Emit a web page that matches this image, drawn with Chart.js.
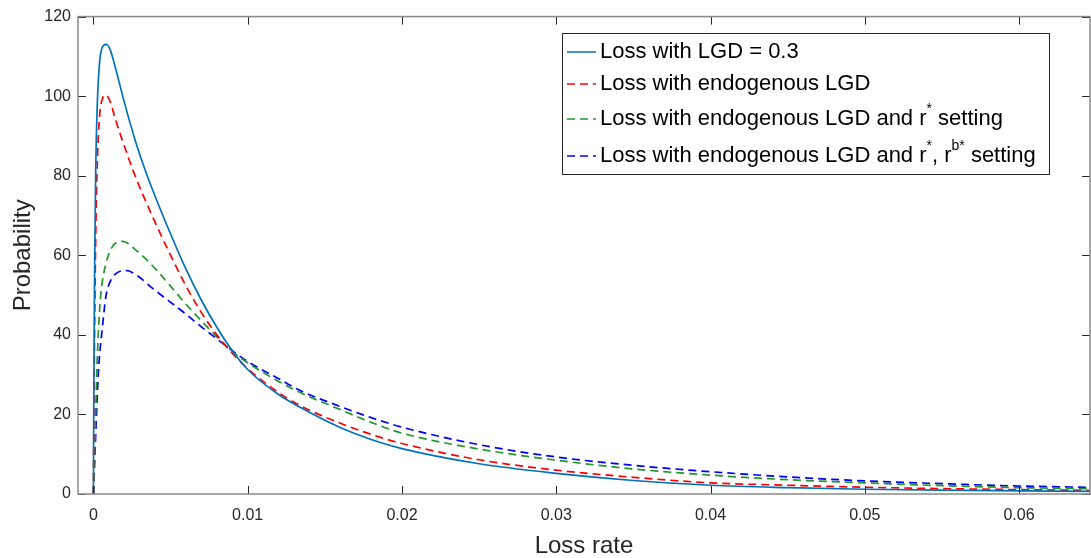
<!DOCTYPE html>
<html lang="en">
<head>
    <meta charset="UTF-8">
    <title>Loss rate distribution</title>
    <script src="https://cdn.jsdelivr.net/npm/chart.js"></script>
    <style>
        body { margin: 0; background: #fff; }
        #wrap { width: 1091px; height: 558px; }
    </style>
</head>
<body>
    <div id="wrap"><canvas id="lossChart" width="1091" height="558"></canvas></div>

    <script>
        // Loss with LGD = 0.3
        const xSolid = [0, 0.00003, 0.00008, 0.00015, 0.00025, 0.0004, 0.0006, 0.00085, 0.0011, 0.0014, 0.002, 0.0027, 0.0033, 0.0038, 0.0049, 0.006, 0.007, 0.008, 0.009, 0.010, 0.012, 0.0134, 0.016, 0.018, 0.020, 0.025, 0.030, 0.035, 0.040, 0.045, 0.050, 0.055, 0.060, 0.065];
        const ySolid = [0, 30, 58, 82, 98, 108.5, 112.5, 113, 111.5, 107.5, 98.5, 89, 82, 76.8, 66.3, 56.5, 48.7, 41.9, 36.0, 31.3, 25, 21.8, 16.7, 13.7, 11.4, 7.6, 5.2, 3.4, 2.2, 1.6, 1.2, 0.95, 0.8, 0.65];

        // Loss with endogenous LGD
        const xEndo = [0, 0.00003, 0.00008, 0.00015, 0.00025, 0.0004, 0.0006, 0.0008, 0.0011, 0.0014, 0.002, 0.0027, 0.0038, 0.0049, 0.006, 0.007, 0.008, 0.009, 0.010, 0.012, 0.0134, 0.016, 0.018, 0.020, 0.025, 0.030, 0.035, 0.040, 0.045, 0.050, 0.055, 0.060, 0.065];
        const yEndo = [0, 20, 42, 65, 83, 95, 99.5, 100.3, 98.5, 94.5, 87.5, 80, 70, 60.8, 52.3, 45.6, 40, 35.4, 31.5, 25.5, 22.2, 17.8, 15, 12.7, 8.6, 6.0, 4.2, 2.8, 2.2, 1.7, 1.35, 1.1, 0.9];

        // Loss with endogenous LGD and r* setting
        const xStar = [0, 0.00005, 0.0001, 0.00017, 0.00024, 0.00035, 0.0005, 0.0008, 0.0012, 0.0019, 0.0027, 0.0038, 0.0049, 0.006, 0.007, 0.008, 0.009, 0.010, 0.012, 0.0134, 0.016, 0.018, 0.020, 0.025, 0.030, 0.035, 0.040, 0.045, 0.050, 0.055, 0.060, 0.065];
        const yStar = [0, 6, 14, 24, 33, 43, 51, 57.7, 62, 63.5, 61.5, 57.5, 52.7, 47.7, 43.5, 39.5, 35.8, 33, 28.3, 25.5, 21.2, 18, 15.3, 11.3, 8.5, 6.3, 4.75, 3.6, 2.8, 2.1, 1.6, 1.3];

        // Loss with endogenous LGD and r*, rb* setting
        const xStarB = [0, 0.0001, 0.0002, 0.0003, 0.0004, 0.00056, 0.0008, 0.0011, 0.0015, 0.0021, 0.0028, 0.0038, 0.0049, 0.006, 0.007, 0.008, 0.009, 0.010, 0.012, 0.0134, 0.016, 0.018, 0.020, 0.025, 0.030, 0.035, 0.040, 0.045, 0.050, 0.055, 0.060, 0.065];
        const yStarB = [0, 10, 20, 29, 35, 41, 49.5, 53.5, 55.5, 56.2, 55, 51.8, 48.5, 45.2, 42, 39, 36, 33.3, 29, 26, 22, 19.2, 16.8, 12.4, 9.3, 7.2, 5.6, 4.3, 3.3, 2.6, 2.0, 1.65];

        const seriesNames = [
            'Loss with LGD = 0.3',
            'Loss with endogenous LGD',
            'Loss with endogenous LGD and r* setting',
            'Loss with endogenous LGD and r*, rb* setting'
        ];
        // legend text pieces, sup = superscript
        const legendParts = [
            [{ t: 'Loss with LGD = 0.3' }],
            [{ t: 'Loss with endogenous LGD' }],
            [{ t: 'Loss with endogenous LGD and r' }, { t: '*', sup: true }, { t: ' setting' }],
            [{ t: 'Loss with endogenous LGD and r' }, { t: '*', sup: true }, { t: ', r' }, { t: 'b*', sup: true }, { t: ' setting' }]
        ];
        const seriesColors = ['#0072BD', '#FF0000', '#22962a', '#0000FF'];

        const xTicks = [0, 0.01, 0.02, 0.03, 0.04, 0.05, 0.06];
        const xTickLabels = ['0', '0.01', '0.02', '0.03', '0.04', '0.05', '0.06'];
        const yTicks = [0, 20, 40, 60, 80, 100, 120];

        const FONT = "'Liberation Sans', Arial, Helvetica, sans-serif";

        function pairs(xs, ys) {
            return xs.map((x, i) => ({ x: x, y: ys[i] }));
        }

        const lineData = [pairs(xSolid, ySolid), pairs(xEndo, yEndo), pairs(xStar, yStar), pairs(xStarB, yStarB)];

        // box, inward ticks and the legend, MATLAB style
        const framePlugin = {
            id: 'frame',
            afterDatasetsDraw(chart) {
                const ctx = chart.ctx;
                const a = chart.chartArea;
                const x = chart.scales.x, y = chart.scales.y;
                ctx.save();

                ctx.strokeStyle = '#262626';
                ctx.lineWidth = 1;
                ctx.beginPath();
                xTicks.forEach(v => {
                    const px = Math.round(x.getPixelForValue(v)) + 0.5;
                    ctx.moveTo(px, a.bottom); ctx.lineTo(px, a.bottom - 8);
                    ctx.moveTo(px, a.top); ctx.lineTo(px, a.top + 8);
                });
                yTicks.forEach(v => {
                    const py = Math.round(y.getPixelForValue(v)) + 0.5;
                    ctx.moveTo(a.left, py); ctx.lineTo(a.left + 8, py);
                    ctx.moveTo(a.right, py); ctx.lineTo(a.right - 8, py);
                });
                ctx.stroke();

                ctx.strokeStyle = '#8a8a8a';
                ctx.lineWidth = 1.5;
                ctx.strokeRect(a.left, a.top, a.right - a.left, a.bottom - a.top);

                // legend
                const bx = 562, by = 33, bw = 487, bh = 141;
                ctx.fillStyle = '#fff';
                ctx.fillRect(bx, by, bw, bh);
                ctx.strokeStyle = '#262626';
                ctx.lineWidth = 1;
                ctx.strokeRect(bx + 0.5, by + 0.5, bw, bh);

                const rowY = [52, 84, 119, 156];
                ctx.textBaseline = 'middle';
                legendParts.forEach((parts, i) => {
                    const ds = chart.data.datasets[i];
                    ctx.strokeStyle = ds.borderColor;
                    ctx.lineWidth = 1.5;
                    ctx.setLineDash(ds.borderDash || []);
                    ctx.beginPath();
                    ctx.moveTo(567, rowY[i]); ctx.lineTo(596, rowY[i]);
                    ctx.stroke();
                    ctx.setLineDash([]);

                    let tx = 600;
                    ctx.fillStyle = '#000';
                    parts.forEach(p => {
                        if (p.sup) {
                            ctx.font = '14px ' + FONT;
                            ctx.fillText(p.t, tx, rowY[i] - 10);
                        } else {
                            ctx.font = '22px ' + FONT;
                            ctx.fillText(p.t, tx, rowY[i]);
                        }
                        tx += ctx.measureText(p.t).width;
                    });
                });
                ctx.restore();
            }
        };

        new Chart(document.getElementById('lossChart'), {
            type: 'line',
            data: {
                datasets: lineData.map((d, i) => ({
                    label: seriesNames[i],
                    data: d,
                    borderColor: seriesColors[i],
                    borderWidth: 1.7,
                    borderDash: i === 0 ? [] : [8, 5],
                    pointRadius: 0,
                    cubicInterpolationMode: 'monotone',
                    fill: false
                }))
            },
            options: {
                responsive: false,
                animation: false,
                layout: { padding: { top: 14, right: 1, left: 0, bottom: 0 } },
                plugins: {
                    legend: { display: false },
                    tooltip: { enabled: false }
                },
                scales: {
                    x: {
                        type: 'linear',
                        min: -0.001,
                        max: 0.0646,
                        afterBuildTicks: s => { s.ticks = xTicks.map(v => ({ value: v })); },
                        afterFit: s => { s.height = 64; },
                        grid: { display: false, drawTicks: false, tickLength: 0 },
                        border: { display: false },
                        ticks: {
                            autoSkip: false,
                            maxRotation: 0,
                            padding: 12,
                            color: '#262626',
                            font: { family: FONT, size: 16 },
                            callback: (v, i) => xTickLabels[i]
                        },
                        title: {
                            display: true,
                            text: 'Loss rate',
                            color: '#262626',
                            font: { family: FONT, size: 24, lineHeight: 1.0 },
                            padding: 0
                        }
                    },
                    y: {
                        min: 0,
                        max: 120,
                        afterBuildTicks: s => { s.ticks = yTicks.map(v => ({ value: v })); },
                        afterFit: s => { s.width = 78; },
                        grid: { display: false, drawTicks: false, tickLength: 0 },
                        border: { display: false },
                        ticks: {
                            padding: 7,
                            color: '#262626',
                            font: { family: FONT, size: 16 }
                        },
                        title: {
                            display: true,
                            text: 'Probability',
                            color: '#262626',
                            font: { family: FONT, size: 24 },
                            padding: 9
                        }
                    }
                }
            },
            plugins: [framePlugin]
        });
    </script>
</body>
</html>
